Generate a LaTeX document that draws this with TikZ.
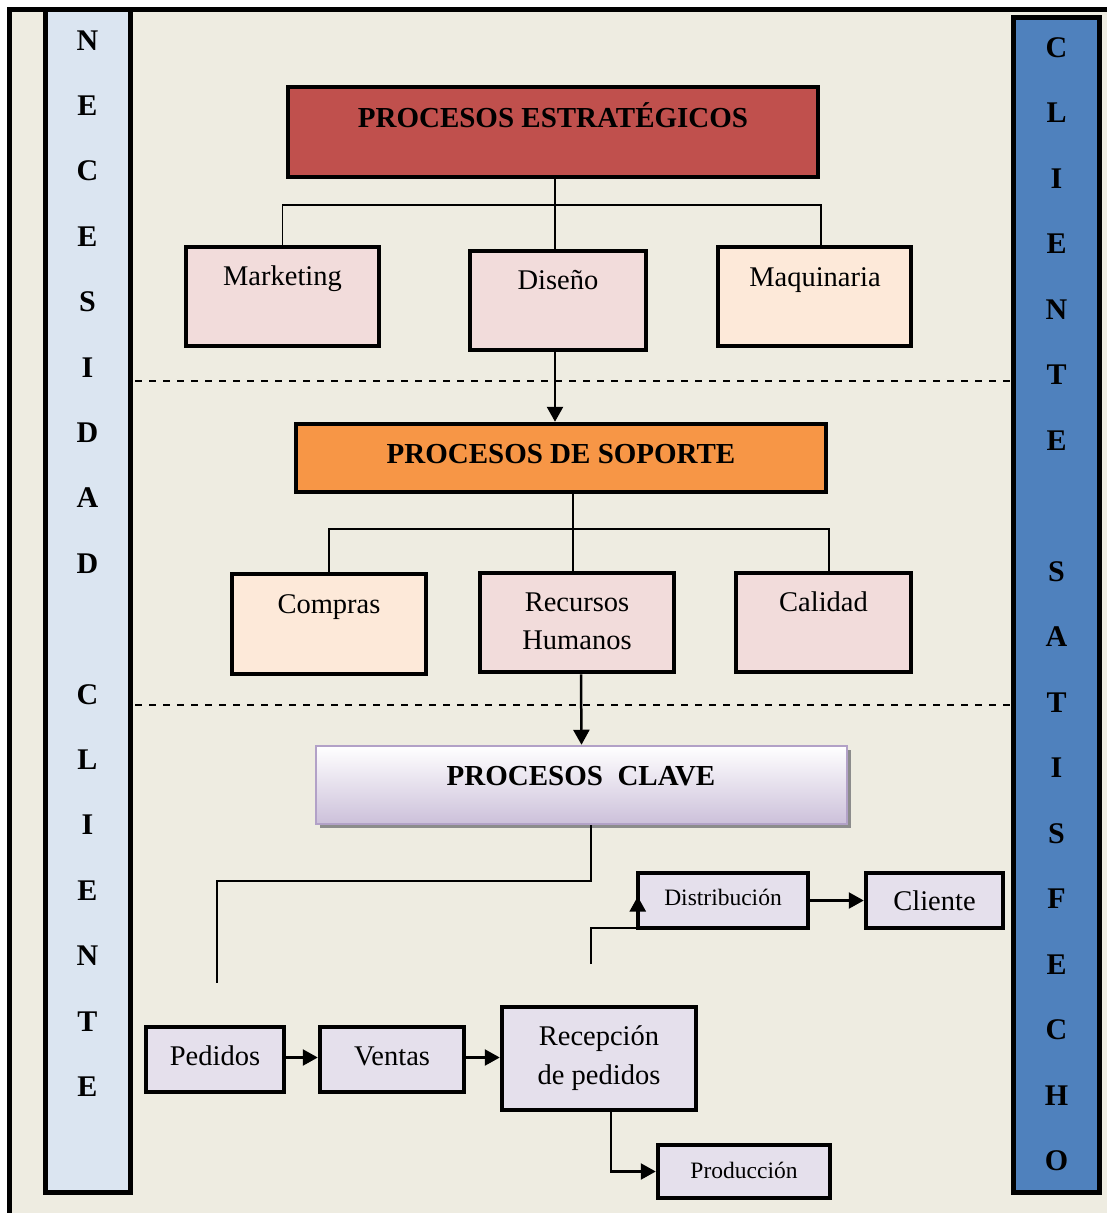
\documentclass[tikz,border=0pt]{standalone}
\usepackage{fontspec}
\setmainfont{Liberation Serif}
\usetikzlibrary{arrows.meta,shadows,calc}

\definecolor{pagebg}{HTML}{EEECE1}
\definecolor{colleft}{HTML}{DBE5F1}
\definecolor{colright}{HTML}{4F81BD}
\definecolor{estred}{HTML}{C0504D}
\definecolor{soporange}{HTML}{F79646}
\definecolor{pinkbox}{HTML}{F2DCDB}
\definecolor{peachbox}{HTML}{FDE9D9}
\definecolor{lavbox}{HTML}{E5E0EC}
\definecolor{clavebot}{HTML}{CCC0DA}
\definecolor{claveedge}{HTML}{B2A1C7}

\tikzset{
  box/.style={draw=black, line width=4.5pt, rectangle, inner sep=0pt},
  hdr/.style={font=\fontsize{29}{33}\selectfont\bfseries, anchor=base},
  lbl/.style={font=\fontsize{28.5}{32}\selectfont, anchor=base},
  lblsm/.style={font=\fontsize{23.5}{27}\selectfont, anchor=base},
  sideletter/.style={font=\fontsize{30}{34}\selectfont\bfseries, anchor=base},
  treeline/.style={line width=1.8pt},
  flow/.style={line width=2.4pt},
  tip/.style={-{Triangle[length=15pt,width=16pt]}},
  arr/.style={line width=2.5pt, tip},
  sep/.style={line width=2pt, dash pattern=on 7pt off 7pt},
}

\begin{document}
\begin{tikzpicture}[x=1pt,y=-1pt]
\useasboundingbox (0,0) rectangle (1107,1213);
\clip (0,0) rectangle (1107,1213);
\fill[white] (0,0) rectangle (1107,1213);

% page frame (runs past the right and bottom edges)
\fill[pagebg] (9.5,9.5) rectangle (1130,1240);
\draw[line width=5pt] (9.5,1240) -- (9.5,9.5) -- (1130,9.5);

% side columns
\node[box, line width=4.5pt, fill=colleft, minimum width=85pt, minimum height=1183pt] (colL) at (88,601) {};
\node[box, line width=5pt, fill=colright, minimum width=86pt, minimum height=1175pt] (colR) at (1056.5,605) {};

\foreach \ch [count=\i] in {N,E,C,E,S,I,D,A,D,,C,L,I,E,N,T,E}
  \node[sideletter] (nl\i) at (87.5, {50 + (\i-1)*65.4}) {\ch};
\foreach \ch [count=\i] in {C,L,I,E,N,T,E,,S,A,T,I,S,F,E,C,H,O}
  \node[sideletter] (cs\i) at (1056.5, {57 + (\i-1)*65.5}) {\ch};

% separators between the three levels
\coordinate (sepA1) at (135,381);
\coordinate (sepA2) at (1011,381);
\coordinate (sepB1) at (135,705);
\coordinate (sepB2) at (1011,705);
\draw[sep] (sepA1) -- (sepA2);
\draw[sep] (sepB1) -- (sepB2);

% strategic level
\node[box, fill=estred, minimum width=530pt, minimum height=90pt] (est) at (553,132) {};
\node[hdr] (estT) at (553,127) {PROCESOS ESTRATÉGICOS};

\node[box, fill=pinkbox, minimum width=193pt, minimum height=99pt] (mkt) at (282.5,296.5) {};
\node[lbl] (mktT) at (282.5,285) {Marketing};
\node[box, fill=pinkbox, minimum width=176pt, minimum height=99pt] (dis) at (558,300.5) {};
\node[lbl] (disT) at (558,289) {Diseño};
\node[box, fill=peachbox, minimum width=193pt, minimum height=99pt] (maq) at (814.5,296.5) {};
\node[lbl] (maqT) at (815,286) {Maquinaria};

\coordinate (busE) at (0,205);
\draw[treeline] ([xshift=2pt]est.south) -- ([xshift=-3pt]dis.north);
\draw[treeline] (mkt.north) -- (mkt.north |- busE) -- ([xshift=6.5pt]maq.north |- busE) -- ([xshift=6.5pt]maq.north);

% support level
\node[box, fill=soporange, minimum width=530pt, minimum height=68pt] (sop) at (561,458) {};
\node[hdr] (sopT) at (561,463) {PROCESOS DE SOPORTE};
\draw[arr] ([xshift=-3pt]dis.south) -- ([xshift=-6pt]sop.north);

\node[box, fill=peachbox, minimum width=194pt, minimum height=100pt] (com) at (329,624) {};
\node[lbl] (comT) at (329,613) {Compras};
\node[box, fill=pinkbox, minimum width=194pt, minimum height=99pt] (rrh) at (577,622.5) {};
\node[lbl] (rrhT1) at (577,611) {Recursos};
\node[lbl] (rrhT2) at (577,649) {Humanos};
\node[box, fill=pinkbox, minimum width=175pt, minimum height=99pt] (cal) at (823.5,622.5) {};
\node[lbl] (calT) at (823.5,611) {Calidad};

\coordinate (busS) at (0,529);
\draw[treeline] ([xshift=12pt]sop.south) -- ([xshift=-4pt]rrh.north);
\draw[treeline] (com.north) -- (com.north |- busS) -- ([xshift=5.5pt]cal.north |- busS) -- ([xshift=5.5pt]cal.north);

% key level
\node[rectangle, draw=claveedge, line width=2.5pt, top color=white, bottom color=clavebot,
      minimum width=531pt, minimum height=78pt,
      drop shadow={shadow xshift=4pt, shadow yshift=-4pt, fill=black!45, opacity=1}] (cla) at (581.5,785) {};
\node[hdr] (claT) at (581,785) {PROCESOS\ \ CLAVE};
\draw[arr] ([xshift=4pt]rrh.south) -- (cla.north);

\node[box, fill=lavbox, minimum width=170pt, minimum height=55pt] (dst) at (723,900.5) {};
\node[lblsm] (dstT) at (723,905) {Distribución};
\node[box, fill=lavbox, minimum width=137pt, minimum height=55pt] (cli) at (934.5,900.5) {};
\node[lbl] (cliT) at (934.5,910) {Cliente};

\node[box, fill=lavbox, minimum width=138pt, minimum height=65pt] (ped) at (215,1059.5) {};
\node[lbl] (pedT) at (215,1065) {Pedidos};
\node[box, fill=lavbox, minimum width=144pt, minimum height=65pt] (ven) at (392,1059.5) {};
\node[lbl] (venT) at (392,1065) {Ventas};
\node[box, fill=lavbox, minimum width=194pt, minimum height=103pt] (rec) at (599,1058.5) {};
\node[lbl] (recT1) at (599,1045) {Recepción};
\node[lbl] (recT2) at (599,1084) {de pedidos};
\node[box, fill=lavbox, minimum width=172pt, minimum height=53pt] (pro) at (744,1171.5) {};
\node[lblsm] (proT) at (744,1178) {Producción};

% flow lines
\coordinate (bendA) at (217,881);
\coordinate (endA) at (217,983);
\draw[treeline] ([xshift=9.5pt]cla.south) |- (bendA) -- (endA);

\coordinate (startB) at (591,964);
\draw[flow, tip] (startB) |- ([xshift=2pt,yshift=2pt]dst.south west) -- ([xshift=2pt,yshift=4pt]dst.west);

\draw[arr] (dst.east) -- (cli.west);
\draw[arr] ([yshift=2pt]ped.east) -- ([yshift=2pt]ped.east -| ven.west);
\draw[arr] ([yshift=2pt]ven.east) -- ([yshift=2pt]ven.east -| rec.west);
\draw[arr] ([xshift=12pt]rec.south) |- (pro.west);
\end{tikzpicture}
\end{document}
